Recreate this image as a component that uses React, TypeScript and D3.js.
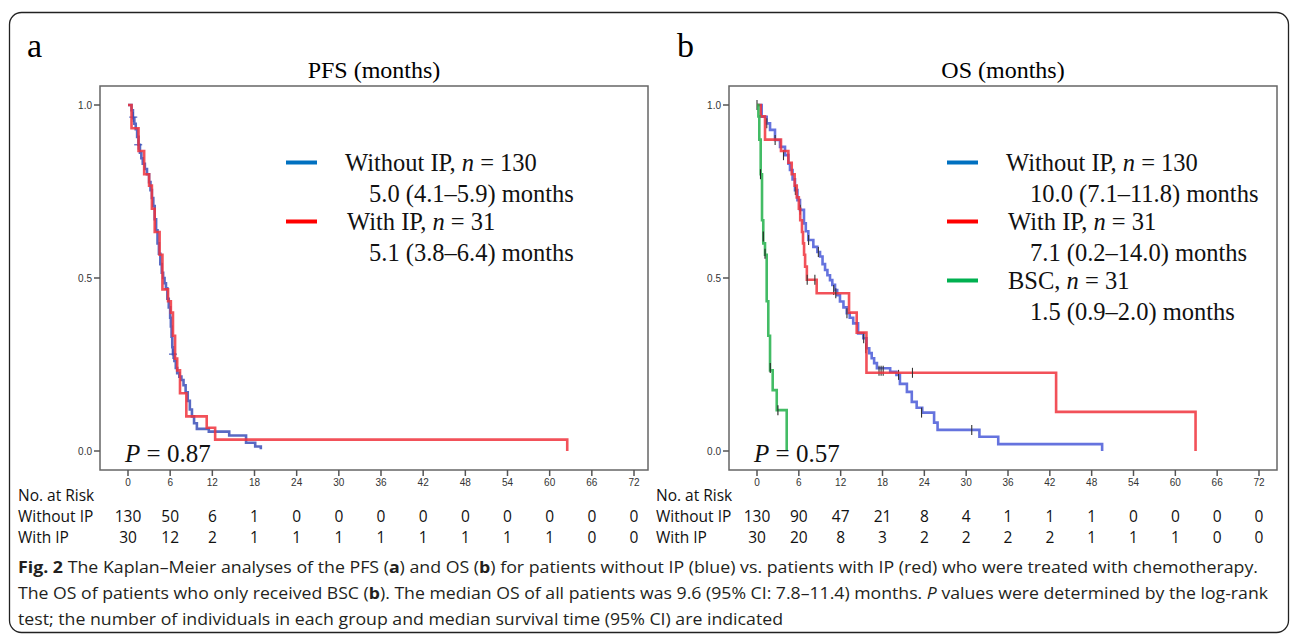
import React from 'react';
import * as d3 from 'd3';

// axis ticks
const monthTicks = [0, 6, 12, 18, 24, 30, 36, 42, 48, 54, 60, 66, 72];
const survTicks = [0, 0.5, 1];
const survLabels = ['0.0', '0.5', '1.0'];

// PFS – without IP (blue), [months, survival]
const pfsNoIp: [number, number][] = [
  [0, 1], [0.5, 0.985], [0.7, 0.962], [0.9, 0.946], [1.1, 0.93], [1.3, 0.908], [1.5, 0.885],
  [1.7, 0.862], [1.9, 0.846], [2.1, 0.83], [2.4, 0.815], [2.7, 0.8], [3.0, 0.777], [3.2, 0.754],
  [3.4, 0.731], [3.6, 0.708], [3.8, 0.67], [4.0, 0.638], [4.2, 0.6], [4.4, 0.57], [4.6, 0.54],
  [4.8, 0.515], [5.0, 0.5], [5.2, 0.485], [5.4, 0.47], [5.6, 0.44], [5.8, 0.415], [6.0, 0.385],
  [6.1, 0.36], [6.2, 0.33], [6.3, 0.3], [6.4, 0.28], [6.6, 0.26], [6.8, 0.24], [7.0, 0.225],
  [7.3, 0.215], [7.6, 0.205], [7.9, 0.19], [8.2, 0.17], [8.5, 0.145], [8.8, 0.12], [9.1, 0.1],
  [9.4, 0.08], [9.8, 0.064], [11.5, 0.056], [14.4, 0.045], [16.8, 0.024], [18.1, 0.013],
  [18.9, 0.005], [18.9, 0.005],
];
const pfsNoIpCens: [number, number][] = [[0.75, 0.965], [1.45, 0.885], [6.4, 0.28]];

// PFS – with IP (red)
const pfsIp: [number, number][] = [
  [0, 1], [0.5, 0.933], [1.5, 0.867], [2.3, 0.8], [3.0, 0.767], [3.4, 0.7], [3.8, 0.633],
  [4.5, 0.567], [4.9, 0.467], [5.7, 0.433], [6.1, 0.4], [6.4, 0.333], [6.7, 0.267], [7.0, 0.233],
  [7.4, 0.167], [8.3, 0.1], [11.2, 0.067], [12.4, 0.033], [62.5, 0], [62.5, 0],
];

// OS – without IP (blue)
const osNoIp: [number, number][] = [
  [0, 1], [0.67, 0.966], [1.39, 0.947], [1.87, 0.928], [2.58, 0.899], [3.3, 0.879], [4.02, 0.855],
  [4.5, 0.83], [4.73, 0.812], [5.1, 0.785], [5.45, 0.754], [5.8, 0.725], [6.17, 0.697],
  [6.74, 0.658], [7.0, 0.635], [7.36, 0.61], [8.08, 0.59], [8.66, 0.575], [9.04, 0.562],
  [9.4, 0.54], [9.76, 0.523], [10.1, 0.508], [10.47, 0.494], [10.8, 0.48], [11.19, 0.465],
  [11.5, 0.45], [11.9, 0.432], [12.4, 0.415], [12.87, 0.398], [13.3, 0.385], [13.8, 0.369],
  [14.5, 0.34], [15.25, 0.326], [15.7, 0.297], [16.1, 0.283], [16.45, 0.268], [16.8, 0.254],
  [17.2, 0.239], [19.1, 0.229], [20.0, 0.22], [20.5, 0.194], [21.5, 0.171], [22.2, 0.142],
  [22.9, 0.125], [23.7, 0.111], [25.4, 0.082], [25.9, 0.061], [31.9, 0.041], [34.6, 0.02],
  [49.5, 0], [49.5, 0],
];
const osNoIpCens: [number, number][] = [
  [0, 1], [1.4, 0.947], [2.6, 0.899], [3.8, 0.855], [5.5, 0.754], [6.2, 0.697], [7.4, 0.61],
  [8.8, 0.575], [11, 0.465], [12.9, 0.398], [15.3, 0.326], [15.6, 0.297], [17.5, 0.232],
  [17.8, 0.232], [18.1, 0.232], [20.3, 0.22], [23.6, 0.111], [30.8, 0.061],
];

// OS – with IP (red)
const osIp: [number, number][] = [
  [0, 1], [0.53, 0.967], [1.15, 0.9], [3.44, 0.867], [4.5, 0.833], [4.98, 0.8], [5.4, 0.767],
  [5.7, 0.733], [6.0, 0.7], [6.2, 0.667], [6.45, 0.633], [6.6, 0.6], [6.75, 0.567], [6.9, 0.533],
  [7.15, 0.495], [8.56, 0.456], [13.2, 0.4], [14.3, 0.342], [15.7, 0.226], [42.9, 0.113],
  [62.9, 0], [62.9, 0],
];
const osIpCens: [number, number][] = [[7.2, 0.495], [8.3, 0.495], [11.3, 0.456], [22.3, 0.226]];

// OS – BSC (green)
const osBsc: [number, number][] = [
  [0, 1], [0.2, 0.967], [0.33, 0.9], [0.53, 0.8], [0.72, 0.667], [0.9, 0.6], [1.15, 0.567],
  [1.39, 0.433], [1.62, 0.333], [1.87, 0.233], [2.25, 0.176], [2.83, 0.118], [4.26, 0], [4.26, 0],
];
const osBscCens: [number, number][] = [[0.5, 0.8], [0.9, 0.62], [1.15, 0.57], [1.9, 0.24], [3.0, 0.118]];

// numbers at risk
const pfsRiskNoIp = [130, 50, 6, 1, 0, 0, 0, 0, 0, 0, 0, 0, 0];
const pfsRiskIp = [30, 12, 2, 1, 1, 1, 1, 1, 1, 1, 1, 0, 0];
const osRiskNoIp = [130, 90, 47, 21, 8, 4, 1, 1, 1, 0, 0, 0, 0];
const osRiskIp = [30, 20, 8, 3, 2, 2, 2, 2, 1, 1, 1, 0, 0];

const serif = '"Liberation Serif", "Times New Roman", serif';
const sans = '"Liberation Sans", Arial, sans-serif';
const risk = '"Open Sans", sans-serif';

type Curve = { pts: [number, number][]; cens: [number, number][]; color: string; censColor: string; cross?: boolean };
type Legend = { color: string; head: string; n: string; sub: string };

const Panel = ({ x0, x1, xr, letter, letterX, title, curves, legend, lx, p, riskX, riskA, riskB }: {
  x0: number; x1: number; xr: [number, number]; letter: string; letterX: number; title: string; curves: Curve[];
  legend: Legend[]; lx: number; p: string; riskX: number; riskA: number[]; riskB: number[];
}) => {
  const y0 = 86, y1 = 470;
  const x = d3.scaleLinear().domain([0, 72]).range(xr);
  const y = d3.scaleLinear().domain([0, 1]).range([451, 105]);
  const line = d3.line<[number, number]>().x(d => x(d[0])).y(d => y(d[1])).curve(d3.curveStepAfter);
  return (
    <g>
      <text x={letterX} y={57} fontFamily={serif} fontSize={34}>{letter}</text>
      <text x={(x0 + x1) / 2} y={78} textAnchor="middle" fontFamily={serif} fontSize={24}>{title}</text>
      <rect x={x0} y={y0} width={x1 - x0} height={y1 - y0} fill="none" stroke="#666" strokeWidth={1.5} />
      {survTicks.map((t, i) => (
        <g key={t}>
          <line x1={x0 - 6} x2={x0} y1={y(t)} y2={y(t)} stroke="#555" strokeWidth={1.5} />
          <text x={x0 - 8} y={y(t) + 3.5} textAnchor="end" fontFamily={sans} fontSize={10} fill="#333">{survLabels[i]}</text>
        </g>
      ))}
      {monthTicks.map(t => (
        <g key={t}>
          <line x1={x(t)} x2={x(t)} y1={y1} y2={y1 + 6} stroke="#555" strokeWidth={1.5} />
          <text x={x(t)} y={y1 + 16} textAnchor="middle" fontFamily={sans} fontSize={10} fill="#333">{t}</text>
        </g>
      ))}
      {curves.map((c, i) => (
        <g key={i}>
          <path d={line(c.pts) || ''} fill="none" stroke={c.color} strokeWidth={2.6} strokeOpacity={0.85} />
          {c.cens.map((d, j) => (
            <g key={j} stroke={c.censColor} strokeWidth={1.1}>
              <line x1={x(d[0])} x2={x(d[0])} y1={y(d[1]) - 5} y2={y(d[1]) + 5} />
              {c.cross && <line x1={x(d[0]) - 4} x2={x(d[0]) + 4} y1={y(d[1])} y2={y(d[1])} />}
            </g>
          ))}
        </g>
      ))}
      {legend.map((l, i) => (
        <g key={i} fontFamily={serif} fontSize={24.5} fill="#111">
          <line x1={lx} x2={lx + 31} y1={162.5 + i * 59} y2={162.5 + i * 59} stroke={l.color} strokeWidth={4} />
          <text x={lx + (i === 0 ? 59 : 61)} y={171 + i * 59}>
            {l.head}<tspan fontStyle="italic">n</tspan> = {l.n}
          </text>
          <text x={lx + 83} y={202 + i * 59}>{l.sub}</text>
        </g>
      ))}
      <text x={x(0) - 3} y={462} fontFamily={serif} fontSize={25} fill="#111">
        <tspan fontStyle="italic">P</tspan> = {p}
      </text>
      <g fontFamily={risk} fontSize={15.5} fill="#111">
        <text x={riskX} y={501}>No. at Risk</text>
        <text x={riskX} y={522}>Without IP</text>
        <text x={riskX} y={543}>With IP</text>
        {monthTicks.map((t, i) => (
          <g key={t}>
            <text x={x(t)} y={522} textAnchor="middle">{riskA[i]}</text>
            <text x={x(t)} y={543} textAnchor="middle">{riskB[i]}</text>
          </g>
        ))}
      </g>
    </g>
  );
};

const blue = '#4a5ad8';
const red = '#f0323c';
const green = '#22b04a';

export default function App() {
  const cap = { fontFamily: '"Open Sans", sans-serif', fontSize: 16, fill: '#231f20' };
  return (
    <svg width={1295} height={636} style={{ position: 'absolute', left: 0, top: 0, background: '#fff' }}>
      <rect x={9.5} y={12.5} width={1279} height={620} rx={12} fill="#fff" stroke="#222" strokeWidth={1.3} />
      <Panel
        x0={100} x1={648} xr={[128, 634]} letter="a" letterX={27} title="PFS (months)" lx={286} p="0.87" riskX={18}
        curves={[
          { pts: pfsNoIp, cens: pfsNoIpCens, color: '#3b4fb8', censColor: '#3b4fb8', cross: true },
          { pts: pfsIp, cens: [], color: red, censColor: '#222' },
        ]}
        legend={[
          { color: '#0070c0', head: 'Without IP, ', n: '130', sub: '5.0 (4.1–5.9) months' },
          { color: '#ff0000', head: 'With IP, ', n: '31', sub: '5.1 (3.8–6.4) months' },
        ]}
        riskA={pfsRiskNoIp} riskB={pfsRiskIp}
      />
      <Panel
        x0={729} x1={1277} xr={[757, 1259]} letter="b" letterX={677} title="OS (months)" lx={947} p="0.57" riskX={656}
        curves={[
          { pts: osNoIp, cens: osNoIpCens, color: blue, censColor: '#333' },
          { pts: osIp, cens: osIpCens, color: red, censColor: '#333' },
          { pts: osBsc, cens: osBscCens, color: green, censColor: '#222' },
        ]}
        legend={[
          { color: '#0070c0', head: 'Without IP, ', n: '130', sub: '10.0 (7.1–11.8) months' },
          { color: '#ff0000', head: 'With IP, ', n: '31', sub: '7.1 (0.2–14.0) months' },
          { color: '#00b050', head: 'BSC, ', n: '31', sub: '1.5 (0.9–2.0) months' },
        ]}
        riskA={osRiskNoIp} riskB={osRiskIp}
      />
      <g {...cap}>
        <text x={18} y={573} textLength={1240} lengthAdjust="spacingAndGlyphs">
          <tspan fontWeight="bold">Fig. 2</tspan> The Kaplan–Meier analyses of the PFS (<tspan fontWeight="bold">a</tspan>) and OS (<tspan fontWeight="bold">b</tspan>) for patients without IP (blue) vs. patients with IP (red) who were treated with chemotherapy.
        </text>
        <text x={18} y={599} textLength={1250} lengthAdjust="spacingAndGlyphs">
          The OS of patients who only received BSC (<tspan fontWeight="bold">b</tspan>). The median OS of all patients was 9.6 (95% CI: 7.8–11.4) months. <tspan fontStyle="italic">P</tspan> values were determined by the log-rank
        </text>
        <text x={18} y={625} textLength={765} lengthAdjust="spacingAndGlyphs">
          test; the number of individuals in each group and median survival time (95% CI) are indicated
        </text>
      </g>
    </svg>
  );
}
